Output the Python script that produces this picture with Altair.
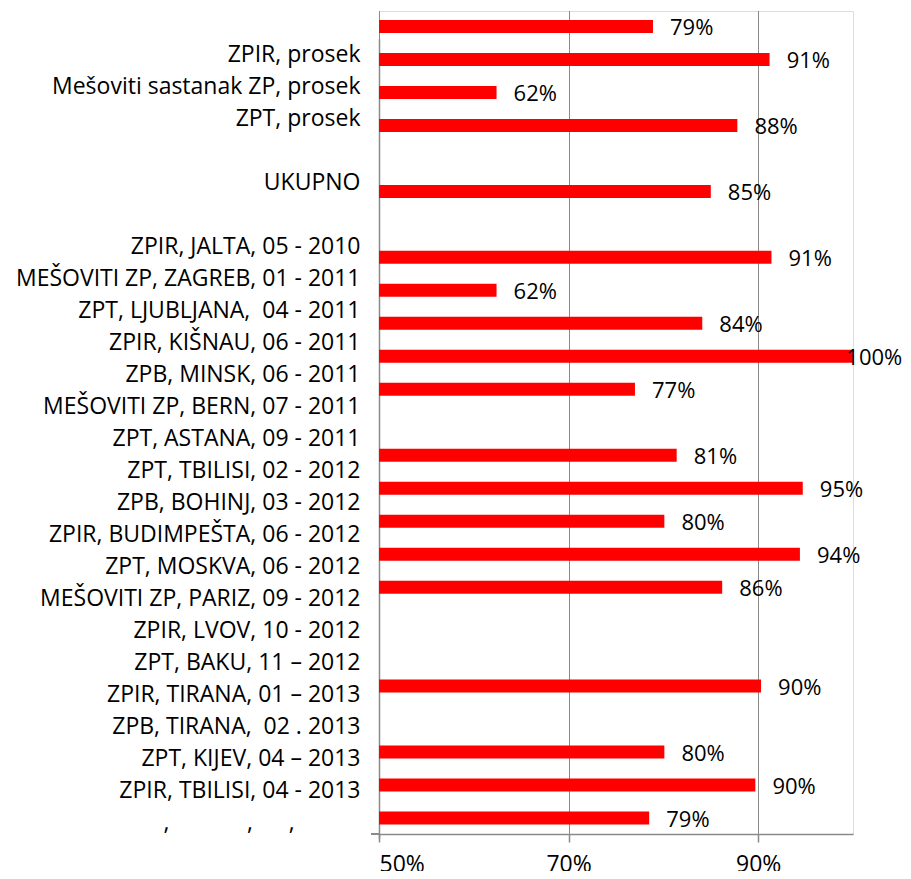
import json
import altair as alt
import pandas as pd

# ---- data ----
# category labels (top to bottom, as printed on the left)
label_rows = [
    "ZPIR, prosek",
    "Mešoviti sastanak ZP, prosek",
    "ZPT, prosek",
    "\u00a0",
    "UKUPNO",
    "\u00a0",
    "ZPIR, JALTA, 05 - 2010",
    "MEŠOVITI ZP, ZAGREB, 01 - 2011",
    "ZPT, LJUBLJANA,\u00a0\u00a004 - 2011",
    "ZPIR, KIŠNAU, 06 - 2011",
    "ZPB, MINSK, 06 - 2011",
    "MEŠOVITI ZP, BERN, 07 - 2011",
    "ZPT, ASTANA, 09 - 2011",
    "ZPT, TBILISI, 02 - 2012",
    "ZPB, BOHINJ, 03 - 2012",
    "ZPIR, BUDIMPEŠTA, 06 - 2012",
    "ZPT, MOSKVA, 06 - 2012",
    "MEŠOVITI ZP, PARIZ, 09 - 2012",
    "ZPIR, LVOV, 10 - 2012",
    "ZPT, BAKU, 11 \u2013 2012",
    "ZPIR, TIRANA, 01 \u2013 2013",
    "ZPB, TIRANA,\u00a0\u00a002 . 2013",
    "ZPT, KIJEV, 04 \u2013 2013",
    "ZPIR, TBILISI, 04 - 2013",
    "," + "\u00a0" * 13 + "," + "\u00a0" * 6 + "," + "\u00a0" * 11 + "\u2060",
]

# bar values in percent (top to bottom, None = no bar)
bar_values = [
    78.9, 91.2, 62.4, 87.8, None, 85.0, None,
    91.4, 62.4, 84.1, 100.0, 77.0, None,
    81.4, 94.7, 80.1, 94.4, 86.2, None, None,
    90.3, None, 80.1, 89.7, 78.5,
]

x_ticks = [50, 70, 90]

GRAY = "#8a8a8a"
FONT = "Open Sans"

bar_rows = list(range(len(bar_values)))
bars_df = pd.DataFrame({"row": bar_rows, "v": bar_values}).dropna()
labels_df = pd.DataFrame({"row": list(range(len(label_rows))), "name": label_rows})

x_scale = alt.Scale(domain=[50, 100], nice=False, zero=False)

bar_y = alt.Y(
    "row:O",
    axis=None,
    scale=alt.Scale(domain=bar_rows, range=[-1, 823.5], paddingInner=0.606, paddingOuter=0.303),
)

bars = (
    alt.Chart(bars_df)
    .mark_bar(color="#ff0000", clip=True)
    .encode(
        x=alt.X(
            "v:Q",
            scale=x_scale,
            axis=alt.Axis(
                values=x_ticks,
                labelExpr="datum.value + '%'",
                title=None,
                grid=True,
                gridColor=GRAY,
                gridWidth=1,
                domainColor=GRAY,
                domainWidth=1.5,
                tickColor=GRAY,
                tickSize=8,
                tickWidth=1.5,
                labelFontSize=23,
                labelFont=FONT,
                labelColor="#000000",
                labelPadding=11,
            ),
        ),
        y=bar_y,
    )
)

value_text = (
    alt.Chart(bars_df)
    .transform_calculate(lx="min(datum.v + 1.8, 99.3)", txt="format(datum.v, '.0f') + '%'")
    .mark_text(align="left", baseline="middle", fontSize=22, font=FONT, color="#000000", dy=2)
    .encode(
        x=alt.X("lx:Q", scale=x_scale),
        y=bar_y,
        text="txt:N",
    )
)

label_expr = json.dumps(label_rows) + "[datum.value]"

labels = (
    alt.Chart(labels_df)
    .mark_point(opacity=0)
    .encode(
        x=alt.value(0),
        y=alt.Y(
            "row:O",
            scale=alt.Scale(range=[27.7, 827], paddingInner=0, paddingOuter=0),
            axis=alt.Axis(
                title=None,
                labelExpr=label_expr,
                ticks=False,
                labelPadding=19,
                labelFontSize=23,
                labelFont=FONT,
                labelColor="#000000",
                labelLimit=500,
                domainColor=GRAY,
                domainWidth=1.5,
                grid=False,
            ),
        ),
    )
)

stub = alt.Chart(labels_df).mark_rule(color=GRAY, strokeWidth=1.5).encode(
    x=alt.value(-8), x2=alt.value(0), y=alt.value(823)
)

chart = (
    alt.layer(bars, value_text, labels, stub)
    .resolve_scale(y="independent")
    .properties(
        width=474,
        height=823,
        autosize=alt.AutoSizeParams(type="none"),
        padding={"left": 371, "top": 3, "right": 50, "bottom": 37},
    )
    .configure_view(stroke=None)
    .configure(font=FONT)
)

chart.save("out.html", embed_options={"renderer": "svg", "actions": False})
